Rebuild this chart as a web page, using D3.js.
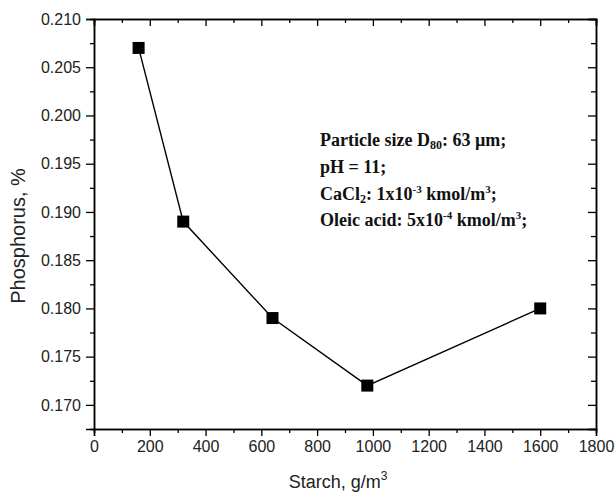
<!DOCTYPE html>
<html><head><meta charset="utf-8">
<script src="https://cdn.jsdelivr.net/npm/d3@7"></script>
<style>body{margin:0;background:#fff}</style>
</head><body>
<svg id="c" width="616" height="498"></svg>
<script>
const starch = [160, 320, 640, 980, 1600];
const phosphorus = [0.207, 0.189, 0.179, 0.172, 0.180];
const xTicks = [0, 200, 400, 600, 800, 1000, 1200, 1400, 1600, 1800];
const yTicks = [0.170, 0.175, 0.180, 0.185, 0.190, 0.195, 0.200, 0.205, 0.210];
const xMinor = [100, 300, 500, 700, 900, 1100, 1300, 1500, 1700];
const yMinor = [0.1725, 0.1775, 0.1825, 0.1875, 0.1925, 0.1975, 0.2025, 0.2075];
const notes = ["Particle size D", "pH = 11;", "CaCl", "Oleic acid: 5x10"];

const svg = d3.select("#c");
const L = 94, R = 596, T = 19, B = 429;
const x = d3.scaleLinear().domain([0, 1800]).range([L, R]);
const y = d3.scaleLinear().domain([0.1675, 0.210]).range([B, T]);
const sans = "Arial, 'Liberation Sans', sans-serif";
const serif = "'Times New Roman', 'Liberation Serif', serif";

// bottom axis
svg.append("g").attr("transform", `translate(0,${B})`)
  .call(d3.axisBottom(x).tickValues(xTicks).tickSize(7).tickPadding(5).tickFormat(d3.format("d")));
svg.append("g").attr("transform", `translate(0,${B})`)
  .call(d3.axisBottom(x).tickValues(xMinor).tickSize(4).tickFormat(""));
// left axis
svg.append("g").attr("transform", `translate(${L},0)`)
  .call(d3.axisLeft(y).tickValues(yTicks).tickSize(8).tickPadding(5).tickFormat(d3.format(".3f")));
svg.append("g").attr("transform", `translate(${L},0)`)
  .call(d3.axisLeft(y).tickValues(yMinor).tickSize(4).tickFormat(""));
// top axis (inward)
svg.append("g").attr("transform", `translate(0,${T})`)
  .call(d3.axisTop(x).tickValues(xTicks).tickSize(-7).tickFormat(""));
svg.append("g").attr("transform", `translate(0,${T})`)
  .call(d3.axisTop(x).tickValues(xMinor).tickSize(-4).tickFormat(""));
// right axis (inward)
svg.append("g").attr("transform", `translate(${R},0)`)
  .call(d3.axisRight(y).tickValues(yTicks).tickSize(-8).tickFormat(""));
svg.append("g").attr("transform", `translate(${R},0)`)
  .call(d3.axisRight(y).tickValues(yMinor).tickSize(-5).tickFormat(""));

svg.selectAll(".domain").attr("stroke", "#000").attr("stroke-width", 1.5);
svg.selectAll(".tick line").attr("stroke", "#000").attr("stroke-width", 1.3);
svg.selectAll(".tick text").attr("font-family", sans).attr("font-size", 16).attr("fill", "#222");

// line
const pts = starch.map((s, i) => [s, phosphorus[i]]);
svg.append("path").datum(pts)
  .attr("fill", "none").attr("stroke", "#000").attr("stroke-width", 1.4)
  .attr("d", d3.line().x(d => x(d[0])).y(d => y(d[1])));
svg.selectAll("rect.m").data(pts).join("rect").attr("class", "m")
  .attr("x", d => x(d[0]) - 6).attr("y", d => y(d[1]) - 6)
  .attr("width", 12).attr("height", 12).attr("fill", "#000");

// axis titles
svg.append("text").attr("x", 338).attr("y", 488).attr("text-anchor", "middle")
  .attr("font-family", sans).attr("font-size", 18).attr("fill", "#222")
  .html('Starch, g/m<tspan dy="-8" font-size="12">3</tspan>');
svg.append("text").attr("transform", "translate(25,236) rotate(-90)").attr("text-anchor", "middle")
  .attr("font-family", sans).attr("font-size", 20).attr("fill", "#222")
  .text("Phosphorus, %");

// annotation
const ann = svg.append("g").attr("font-family", serif).attr("font-weight", "bold")
  .attr("font-size", 18).attr("fill", "#111");
const nx = 320;
ann.append("text").attr("x", nx).attr("y", 146)
  .html(notes[0] + '<tspan dy="3" font-size="12">80</tspan><tspan dy="-3">: 63 µm;</tspan>');
ann.append("text").attr("x", nx).attr("y", 173).text(notes[1]);
ann.append("text").attr("x", nx).attr("y", 200)
  .html(notes[2] + '<tspan dy="3" font-size="12">2</tspan><tspan dy="-3">: 1x10</tspan><tspan dy="-7" font-size="11">-3</tspan><tspan dy="7"> kmol/m</tspan><tspan dy="-7" font-size="11">3</tspan><tspan dy="7">;</tspan>');
ann.append("text").attr("x", nx).attr("y", 226)
  .html(notes[3] + '<tspan dy="-7" font-size="11">-4</tspan><tspan dy="7"> kmol/m</tspan><tspan dy="-7" font-size="11">3</tspan><tspan dy="7">;</tspan>');
</script>
</body></html>
